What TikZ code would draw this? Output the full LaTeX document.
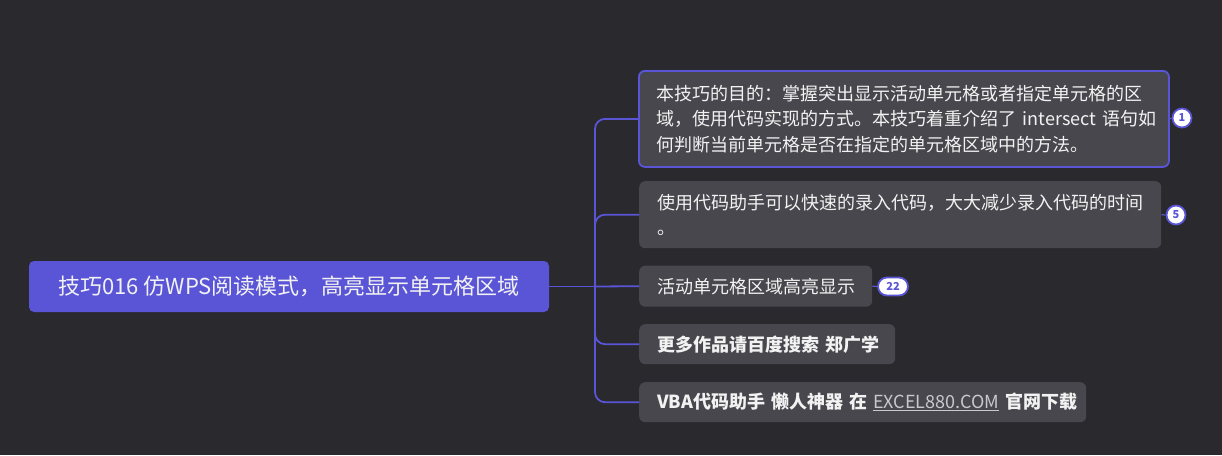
\documentclass[tikz,border=0pt]{standalone}
\usepackage{fontspec}
\setmainfont{Noto Sans CJK SC}
\usetikzlibrary{calc}
\definecolor{bg}{HTML}{2A292D}
\definecolor{nodefill}{HTML}{48474D}
\definecolor{accent}{HTML}{5A55D6}
\definecolor{txt}{HTML}{F2F2F2}
\definecolor{linkgrey}{HTML}{C9C9CD}
\tikzset{
  topic/.style={fill=nodefill, rounded corners=6pt, text=txt, inner xsep=18pt, inner ysep=0pt,
    align=left, anchor=north west, font=\fontsize{18}{25.5}\selectfont},
  selected/.style={draw=accent, line width=1.8pt},
  rootbox/.style={fill=accent, rounded corners=5pt, text=txt, minimum width=520pt, minimum height=51pt,
    inner sep=0pt, font=\fontsize{22}{26}\selectfont},
  conn/.style={draw=accent, line width=1.8pt},
  badge/.style={circle, draw=accent, fill=white, line width=1.8pt, minimum size=19pt, inner sep=0pt,
    text=accent, font=\fontsize{11}{11}\selectfont\bfseries},
  pill/.style={rounded corners=9pt, draw=accent, fill=white, line width=1.8pt, minimum width=30pt,
    minimum height=18pt, inner sep=0pt, text=accent, font=\fontsize{11}{11}\selectfont\bfseries},
}
\begin{document}
\begin{tikzpicture}[x=1pt,y=-1pt]
\fill[bg] (0,0) rectangle (1222,455);
\useasboundingbox (0,0) rectangle (1222,455);

\node[rootbox] (root) at (289,286.5) {技巧016 仿WPS阅读模式，高亮显示单元格区域};

\node[topic, selected, text width=494pt, minimum height=96pt] (n1) at (638,70)
  {\mbox{本技巧的目的：掌握突出显示活动单元格或者指定单元格的区}\\\mbox{域，使用代码实现的方式。本技巧着重介绍了 intersect 语句如}\\\mbox{何判断当前单元格是否在指定的单元格区域中的方法。}};
\node[topic, text width=486pt, minimum height=67pt] (n2) at (639,181)
  {\mbox{使用代码助手可以快速的录入代码，大大减少录入代码的时间}\\。};
\node[topic, text width=197pt, minimum height=41pt] (n3) at (639,265.5)
  {\mbox{活动单元格区域高亮显示}};
\node[topic, text width=220pt, minimum height=40pt, font=\fontsize{18}{25.5}\selectfont\bfseries] (n4) at (639,324)
  {\mbox{更多作品请百度搜索 郑广学}};
\node[topic, text width=411pt, minimum height=40pt, font=\fontsize{18}{25.5}\selectfont\bfseries] (n5) at (639,382)
  {\mbox{VBA代码助手 懒人神器 在 {\mdseries\color{linkgrey}\underline{EXCEL880.COM}} 官网下载}};

\node[badge] (b1) at (1182,118) {1};
\node[badge] (b2) at (1176,215) {5};
\node[pill] (b3) at (893,286.5) {22};

\coordinate (tr) at (595,286.5);
\draw[conn] (root.east) -- (tr);
\draw[conn, rounded corners=10pt] (tr) |- (n1.west);
\draw[conn, rounded corners=10pt] (tr) |- (n2.west);
\draw[conn] (tr) -- (n3.west);
\draw[conn, rounded corners=10pt] (tr) |- (n4.west);
\draw[conn, rounded corners=10pt] (tr) |- (n5.west);

\draw[conn, line width=1.2pt] (n1.east) -- (b1.west);
\draw[conn, line width=1.2pt] (n2.east) -- (b2.west);
\draw[conn, line width=1.2pt] (n3.east) -- (b3.west);
\end{tikzpicture}
\end{document}
